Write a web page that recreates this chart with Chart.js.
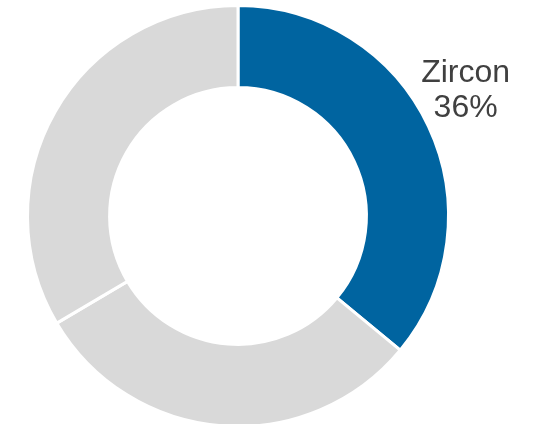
<!DOCTYPE html>
<html>
<head>
<meta charset="utf-8">
<script src="https://cdn.jsdelivr.net/npm/chart.js@4/dist/chart.umd.min.js"></script>
<style>
    html, body { margin: 0; padding: 0; background: #fff; overflow: hidden; }
    #wrap { width: 539px; height: 430px; }
</style>
</head>
<body>
<div id="wrap"><canvas id="donut"></canvas></div>
<script>
const categories = ['Zircon', 'Other A', 'Other B'];
const shares = [36, 30.5, 33.5];
const shownLabels = ['Zircon 36%', '', ''];
const sliceColors = ['#0064A0', '#D9D9D9', '#D9D9D9'];

// draws the outside label for the highlighted slice
const sliceLabel = {
    id: 'sliceLabel',
    afterDatasetsDraw(chart) {
        const ctx = chart.ctx;
        const arcs = chart.getDatasetMeta(0).data;
        arcs.forEach((arc, i) => {
            if (!shownLabels[i]) return;
            const p = arc.getProps(['x', 'y', 'startAngle', 'endAngle', 'outerRadius'], true);
            const mid = (p.startAngle + p.endAngle) / 2;
            const r = p.outerRadius * 1.195;
            const x = p.x + Math.cos(mid) * r;
            const y = p.y + Math.sin(mid) * r;
            const lines = [categories[i], shares[i].toFixed(0) + '%'];
            ctx.save();
            ctx.fillStyle = '#404040';
            ctx.font = '32px "Liberation Sans", Arial, sans-serif';
            ctx.textAlign = 'center';
            ctx.textBaseline = 'alphabetic';
            ctx.fillText(lines[0], x, y - 27);
            ctx.fillText(lines[1], x, y + 8);
            ctx.restore();
        });
    }
};

new Chart(document.getElementById('donut'), {
    type: 'doughnut',
    data: {
        labels: categories,
        datasets: [{
            data: shares,
            backgroundColor: sliceColors,
            borderColor: '#ffffff',
            borderWidth: 3,
            hoverOffset: 0
        }]
    },
    options: {
        responsive: true,
        maintainAspectRatio: false,
        animation: false,
        cutout: '61%',
        layout: { padding: { left: 26, right: 89, top: 4, bottom: 2 } },
        plugins: {
            legend: { display: false },
            tooltip: { enabled: false }
        }
    },
    plugins: [sliceLabel]
});
</script>
</body>
</html>
